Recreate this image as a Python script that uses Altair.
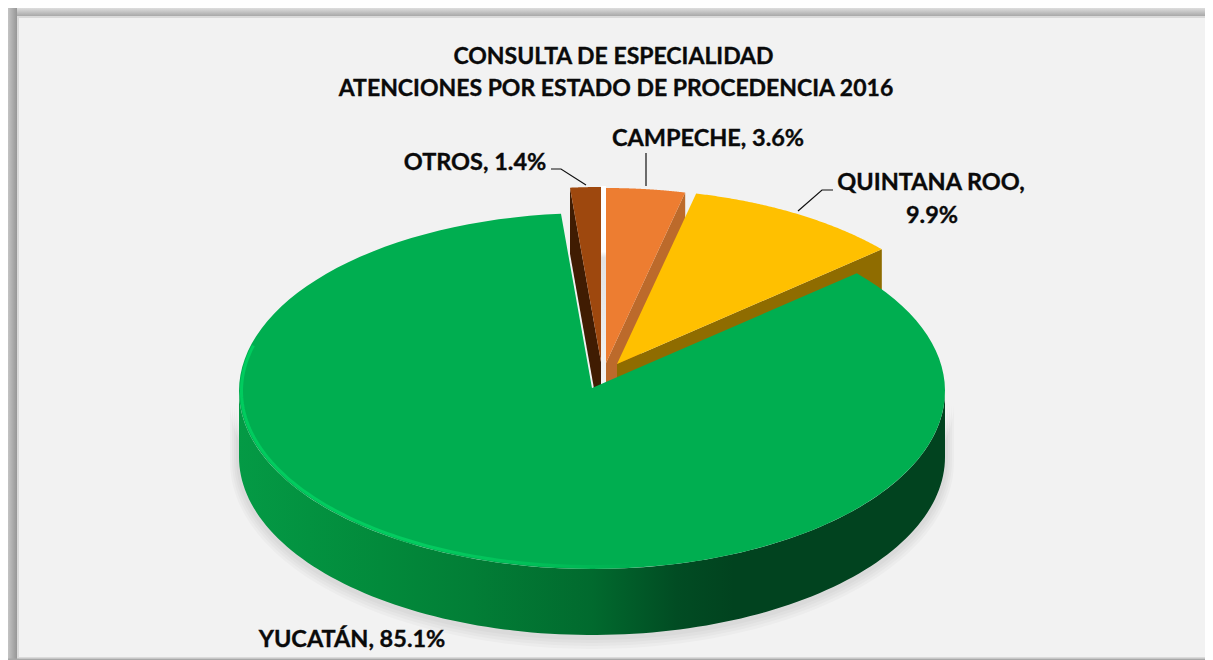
import altair as alt
import numpy as np
import pandas as pd

# ---- chart values ----
categories = ["CAMPECHE", "QUINTANA ROO", "YUCATÁN", "OTROS"]
shares = [3.6, 9.9, 85.1, 1.4]
top_colors = ["#ED7D31", "#FFC000", "#00AE50", "#9E480E"]
side_colors = ["#BC6A2B", "#8F6C00", "#01431F", "#401C02"]
title_lines = ["CONSULTA DE ESPECIALIDAD", "ATENCIONES POR ESTADO DE PROCEDENCIA 2016"]

# ---- layout ----
W, H = 1197, 652
RX, RY, DEPTH = 353, 178, 66
centres = {"CAMPECHE": (606, 366), "QUINTANA ROO": (617, 367),
           "YUCATÁN": (592, 391), "OTROS": (601, 365)}
APEX_UP = 3

X = alt.X("x:Q", axis=None, scale=alt.Scale(domain=[8, 1205], nice=False, zero=False))
Y = alt.Y("y:Q", axis=None, scale=alt.Scale(domain=[660, 8], nice=False, zero=False))


def arc_pts(a0, a1, cx, cy, rx=RX, ry=RY, n=120):
    t = np.radians(np.linspace(a0, a1, n))
    return [float(v) for v in cx + rx * np.sin(t)], [float(v) for v in cy - ry * np.cos(t)]


def poly(xs, ys, fill, opacity=1.0, closed=True):
    xs, ys = list(xs), list(ys)
    if closed:
        xs, ys = xs + xs[:1], ys + ys[:1]
    df = pd.DataFrame({"x": xs, "y": ys, "seq": range(len(xs))})
    return alt.Chart(df).mark_line(fill=fill, strokeWidth=0, opacity=opacity, clip=False).encode(
        x=X, y=Y, order="seq:Q")


def box(x0, x1, y0, y1, fill):
    df = pd.DataFrame({"x": [x0], "x2": [x1], "y": [y0], "y2": [y1]})
    return alt.Chart(df).mark_rect(fill=fill).encode(x=X, x2="x2:Q", y=Y, y2="y2:Q")


def grad(stops, horizontal):
    return alt.LinearGradient(
        gradient="linear", x1=0, y1=0, x2=1 if horizontal else 0, y2=0 if horizontal else 1,
        stops=[alt.GradientStop(offset=o, color=c) for o, c in stops])


def horiz(stops):
    return grad(stops, True)


def vert(stops):
    return grad(stops, False)


# slice angles from the shares, clockwise from twelve o'clock
edges = np.cumsum([0] + shares) * 3.6
angle = {c: (float(edges[i]), float(edges[i + 1])) for i, c in enumerate(categories)}
top = dict(zip(categories, top_colors))
side = dict(zip(categories, side_colors))


def top_face(cat):
    a0, a1 = angle[cat]
    cx, cy = centres[cat]
    ax, ay = arc_pts(a0, a1, cx, cy)
    return poly([cx] + ax, [cy - APEX_UP] + ay, top[cat])


def cut_face(cat, a):
    cx, cy = centres[cat]
    ax, ay = arc_pts(a, a, cx, cy, n=1)
    ax, ay = ax[0], ay[0]
    ay0 = cy - APEX_UP
    return poly([cx, ax, ax, cx], [ay0, ay, ay + DEPTH, ay0 + DEPTH], side[cat])


layers = []

# panel: background and soft frame
layers.append(box(8, 1205, 8, 660, "#F2F2F2"))
layers.append(box(8, 1205, 8, 17, vert([(0, "#DEDEDE"), (1, "#A2A2A2")])))
layers.append(box(8, 17, 8, 660, horiz([(0, "#C4C4C4"), (1, "#969696")])))
layers.append(box(17, 1205, 16, 18, "#DADADA"))
layers.append(box(17, 19, 16, 660, "#DADADA"))
layers.append(box(17, 1205, 657, 658.5, "#DADADA"))
layers.append(box(8, 1205, 658.5, 660, "#A8A8A8"))

# soft shadow beneath the pie
gx, gy = centres["YUCATÁN"]
for grow, off in [(9, 5), (7, 4), (5, 3), (3, 2)]:
    bx, by = arc_pts(90, 270, gx, gy + DEPTH + off, RX + grow, RY + grow)
    tx, ty = arc_pts(270, 90, gx, gy + 10, RX + grow, RY)
    layers.append(poly(bx + tx, by + ty, "#000000", opacity=0.025))

# slices from back to front
layers.append(cut_face("OTROS", angle["OTROS"][0]))
layers.append(top_face("OTROS"))
layers.append(box(601, 606, 186, 385, vert([(0, "#FFFFFF"), (0.33, "#FFFFFF"), (0.36, "#E2E2E2"), (1, "#F4F4F4")])))
layers.append(cut_face("CAMPECHE", angle["CAMPECHE"][1]))
layers.append(top_face("CAMPECHE"))
layers.append(cut_face("QUINTANA ROO", angle["QUINTANA ROO"][1]))
layers.append(top_face("QUINTANA ROO"))

# Yucatán: outer wall, then top face with its lit rim
wx0, wy0 = arc_pts(90, 270, gx, gy)
wx1, wy1 = arc_pts(270, 90, gx, gy + DEPTH)
layers.append(poly(wx0 + wx1, wy0 + wy1, horiz([
    (0, "#049A45"), (0.2, "#028A3B"), (0.33, "#027E36"), (0.5, "#016A2E"),
    (0.62, "#014C23"), (0.7, "#01431F"), (1, "#01431F")])))
layers.append(top_face("YUCATÁN"))

rx_, ry_ = arc_pts(172, 285, gx, gy, RX - 2.5, RY - 2.5)
rim = pd.DataFrame({"x": rx_, "y": ry_, "seq": range(len(rx_))})
layers.append(alt.Chart(rim).mark_line(
    strokeWidth=3,
    stroke=horiz([(0, "#00CC5E"), (0.45, "#04CC60"), (0.8, "#00BC56"), (1, "#00AE50")]),
).encode(x=X, y=Y, order="seq:Q"))

# leader lines
leaders = {
    "OTROS": ([551, 561, 586], [169, 169, 185]),
    "CAMPECHE": ([646, 646], [153, 186]),
    "QUINTANA ROO": ([833, 822, 798], [190, 190, 211]),
}
for name, (lx, ly) in leaders.items():
    d = pd.DataFrame({"x": lx, "y": ly, "seq": range(len(lx)), "name": name})
    layers.append(alt.Chart(d).mark_line(color="#111111", strokeWidth=1.2).encode(x=X, y=Y, order="seq:Q"))

# text
texts = pd.DataFrame({
    "t": title_lines + [
        f"{categories[0]}, {shares[0]}%", f"{categories[3]}, {shares[3]}%",
        f"{categories[1]},", f"{shares[1]}%", f"{categories[2]}, {shares[2]}%"],
    "x": [613.5, 616, 708, 475, 931, 932, 352],
    "y": [57, 89, 139, 163, 183, 216, 640],
    "s": [23, 23, 23.5, 23.5, 23.5, 23.5, 23.5],
})
for size, part in texts.groupby("s"):
    layers.append(alt.Chart(part).mark_text(
        font="Lato", fontWeight="bold", fontSize=float(size), color="#0A0A0A",
        stroke="#0A0A0A", strokeWidth=0.35, baseline="middle", align="center",
    ).encode(x=X, y=Y, text="t:N"))

chart = alt.layer(*layers).properties(
    width=W, height=H, padding=0, autosize=alt.AutoSizeParams(type="none"),
    background="#FFFFFF",
).configure_view(strokeWidth=0)

chart.save("out.html", embed_options={"renderer": "svg", "actions": False})
